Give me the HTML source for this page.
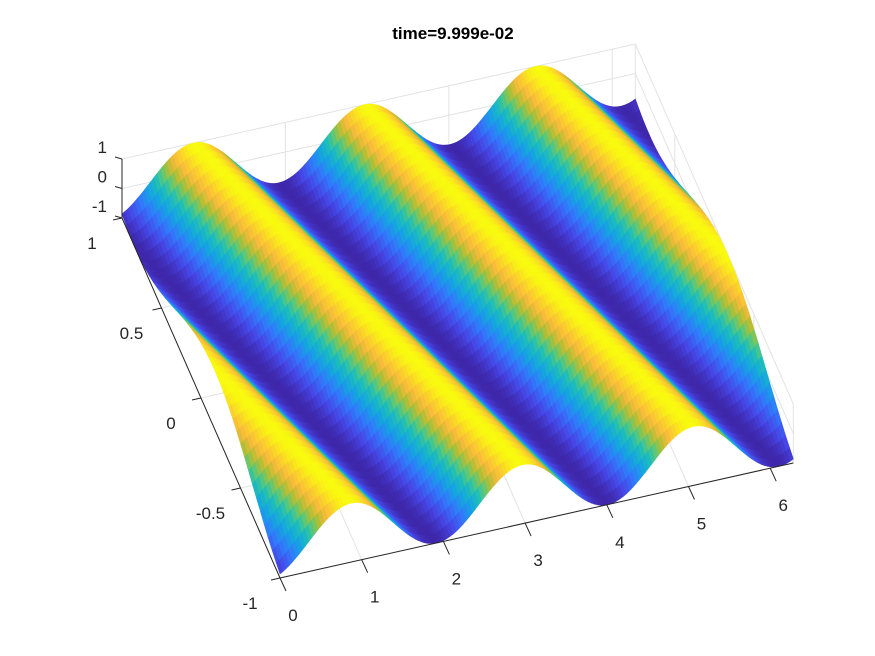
<!DOCTYPE html>
<html><head><meta charset="utf-8">
<style>
html,body{margin:0;padding:0;background:#fff;}
svg{display:block;font-family:"Liberation Sans",sans-serif;}
</style></head>
<body>
<svg id="chart" width="875" height="656" viewBox="0 0 875 656" xmlns="http://www.w3.org/2000/svg">
<rect width="875" height="656" fill="#fff"/>
<text x="453" y="39" text-anchor="middle" font-size="17" font-weight="bold" fill="#000">time=9.999e-02</text>
<g id="grid"></g><g id="surf"></g><g id="axes"></g>
</svg>
<script>
// axis tick data
const xTicks=[0,1,2,3,4,5,6];
const yTicks=[-1,-0.5,0,0.5,1];
const yTickLabels=["-1","-0.5","0","0.5","1"];
const zTicks=[-1,0,1];
// surface wave parameters
const waveNumberX=[3];
const waveNumberY=[3.14];
const wavePhase=[0.53];
const amplitude=[1];

const xMax=2*Math.PI;
const O=[280,578], EX=[81.7,-18.3], EY=[-79,-180], EZ=[0,-29.5];
function P(x,y,z){return [O[0]+EX[0]*x+EY[0]*(y+1)+EZ[0]*(z+1), O[1]+EX[1]*x+EY[1]*(y+1)+EZ[1]*(z+1)];}
function zf(x,y){return amplitude[0]*Math.cos(waveNumberX[0]*x+waveNumberY[0]*y+wavePhase[0]);}
const stops=[[0,62,38,168],[0.12,70,70,230],[0.27,50,120,252],[0.42,20,165,225],[0.55,30,190,185],[0.65,90,200,120],[0.75,180,190,50],[0.85,250,186,60],[0.93,250,215,40],[1,249,251,14]];
function cmap(z){let t=(z+1)/2;t=Math.max(0,Math.min(1,t));
 for(let i=1;i<stops.length;i++){if(t<=stops[i][0]){const a=stops[i-1],b=stops[i],u=(t-a[0])/(b[0]-a[0]);
 return `rgb(${Math.round(a[1]+u*(b[1]-a[1]))},${Math.round(a[2]+u*(b[2]-a[2]))},${Math.round(a[3]+u*(b[3]-a[3]))})`;}}return "rgb(249,251,14)";}
const NS="http://www.w3.org/2000/svg";
function line(g,a,b,c,w,name){const l=document.createElementNS(NS,'line');
 l.setAttribute('x1',a[0]);l.setAttribute('y1',a[1]);l.setAttribute('x2',b[0]);l.setAttribute('y2',b[1]);
 l.setAttribute('stroke',c);l.setAttribute('stroke-width',w);
 
 
 g.appendChild(l);}
function text(g,p,s,anchor,name){const t=document.createElementNS(NS,'text');
 t.setAttribute('x',p[0]);t.setAttribute('y',p[1]);t.setAttribute('font-size','17');t.setAttribute('text-anchor',anchor);t.setAttribute('fill','#262626');
 t.textContent=s;
 
 
 g.appendChild(t);}
const grid=document.getElementById('grid'), gc='#e3e3e3';
xTicks.forEach(x=>{line(grid,P(x,1,-1),P(x,1,1),gc,1,'grid-line-x');line(grid,P(x,-1,-1),P(x,1,-1),gc,1,'grid-line-x-floor');});
yTicks.forEach(y=>{line(grid,P(xMax,y,-1),P(xMax,y,1),gc,1,'grid-line-y');line(grid,P(0,y,-1),P(xMax,y,-1),gc,1,'grid-line-y-floor');});
zTicks.forEach(z=>{line(grid,P(0,1,z),P(xMax,1,z),gc,1,'grid-line-z');line(grid,P(xMax,-1,z),P(xMax,1,z),gc,1,'grid-line-z-side');});
const surf=document.getElementById('surf');
const NX=160,NY=40,quads=[];
for(let i=0;i<NX;i++)for(let j=0;j<NY;j++){
 const x0=xMax*i/NX,x1=xMax*(i+1)/NX,y0=-1+2*j/NY,y1=-1+2*(j+1)/NY;
 const zs=[zf(x0,y0),zf(x1,y0),zf(x1,y1),zf(x0,y1)];
 const zc=(zs[0]+zs[1]+zs[2]+zs[3])/4,xc=(x0+x1)/2,yc=(y0+y1)/2;
 const pts=[P(x0,y0,zs[0]),P(x1,y0,zs[1]),P(x1,y1,zs[2]),P(x0,y1,zs[3])];
 quads.push({d:-2330*xc-2410*yc+16152*zc,pts,c:cmap(zc)});}
quads.sort((a,b)=>a.d-b.d);
quads.forEach(q=>{const p=document.createElementNS(NS,'polygon');
 p.setAttribute('points',q.pts.map(v=>v[0].toFixed(1)+','+v[1].toFixed(1)).join(' '));
 p.setAttribute('fill',q.c);p.setAttribute('stroke',q.c);p.setAttribute('stroke-width','0.6');
 
 
 surf.appendChild(p);});
const ax=document.getElementById('axes'),ac='#262626';
line(ax,P(0,-1,-1),P(xMax,-1,-1),ac,1,'x-axis-line');
line(ax,P(0,-1,-1),P(0,1,-1),ac,1,'y-axis-line');
line(ax,P(0,1,-1),P(0,1,1),ac,1,'z-axis-line');
xTicks.forEach(x=>{const a=P(x,-1,-1);line(ax,a,[a[0]+6,a[1]+13],ac,1,'x-tick');text(ax,[a[0]+13,a[1]+43],String(x),'middle','x-tick-label');});
yTicks.forEach((y,k)=>{const a=P(0,y,-1);line(ax,a,[a[0]-9,a[1]+2],ac,1,'y-tick');text(ax,[a[0]-30,a[1]+31],yTickLabels[k],'middle','y-tick-label');});
zTicks.forEach(z=>{const a=P(0,1,z);line(ax,a,[a[0]-7,a[1]-2],ac,1,'z-tick');text(ax,[a[0]-15,a[1]-6],String(z),'end','z-tick-label');});
</script>
</body></html>
